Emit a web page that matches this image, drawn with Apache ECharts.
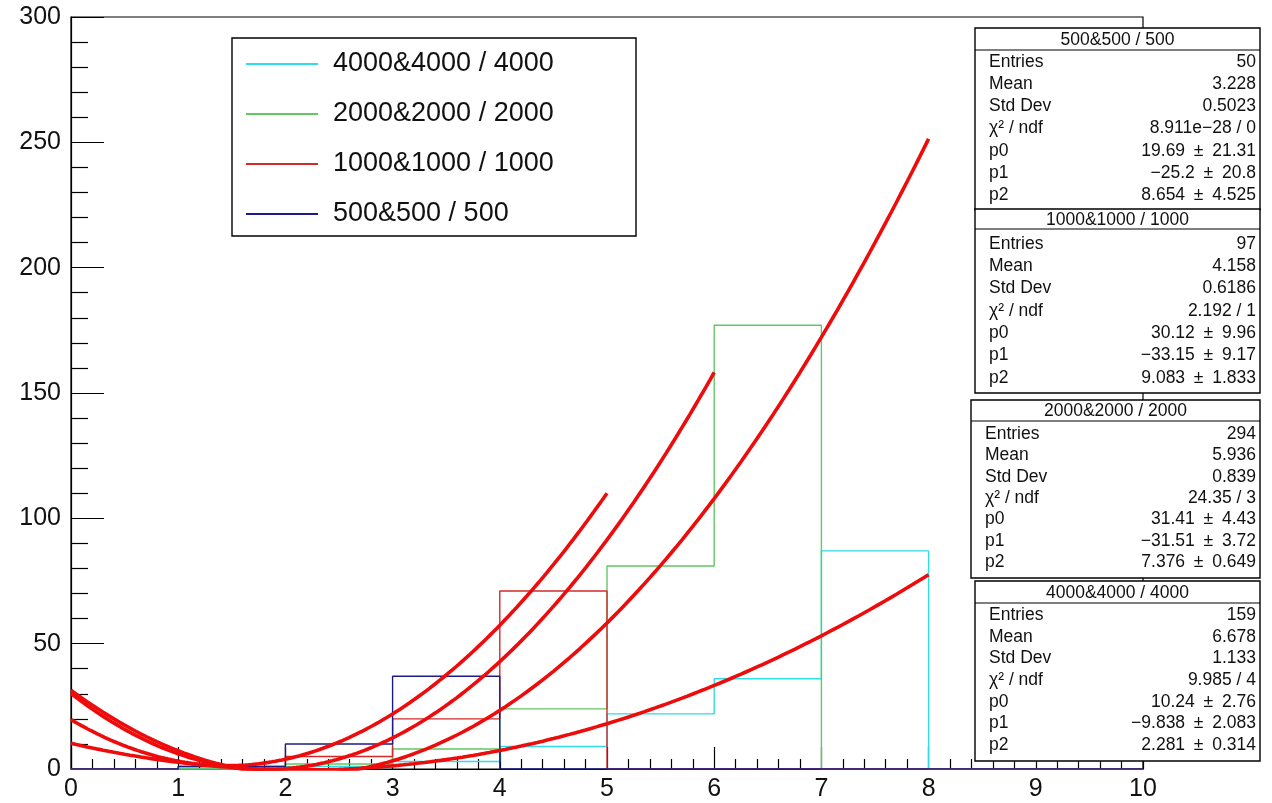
<!DOCTYPE html>
<html>
<head>
<meta charset="utf-8">
<script src="https://cdn.jsdelivr.net/npm/echarts@6/dist/echarts.min.js"></script>
<style>
  html, body { margin: 0; padding: 0; background: #ffffff; }
  #chart { width: 1272px; height: 803px; }
</style>
</head>
<body>
<div id="chart"></div>
<script>
// Bin edges shared by all histograms (10 bins of width 1)
const binEdges = [0, 1, 2, 3, 4, 5, 6, 7, 8, 9, 10];

// Histogram names
const names = ['500&500 / 500', '1000&1000 / 1000', '2000&2000 / 2000', '4000&4000 / 4000'];

// Bin contents per histogram
const counts500  = [0, 1, 10, 37, 0, 0, 0, 0, 0, 0];
const counts1000 = [0, 1, 5, 20, 71, 0, 0, 0, 0, 0];
const counts2000 = [0, 0, 2, 8, 24, 81, 177, 0, 0, 0];
const counts4000 = [0, 0, 1, 3, 9, 22, 36, 87, 0, 0];

// Fit results: pol2 = p0 + p1*x + p2*x^2, fitted from 0 to fitEnd
const p0 = [19.69, 30.12, 31.41, 10.24];
const p0Err = ['21.31', '9.96', '4.43', '2.76'];
const p1 = [-25.2, -33.15, -31.51, -9.838];
const p1Err = ['20.8', '9.17', '3.72', '2.083'];
const p2 = [8.654, 9.083, 7.376, 2.281];
const p2Err = ['4.525', '1.833', '0.649', '0.314'];
const fitEnd = [5, 6, 8, 8];

// Statistics box contents
const entries = ['50', '97', '294', '159'];
const means = ['3.228', '4.158', '5.936', '6.678'];
const stdDevs = ['0.5023', '0.6186', '0.839', '1.133'];
const chi2 = ['8.911e\u221228 / 0', '2.192 / 1', '24.35 / 3', '9.985 / 4'];

// Axis ranges
const xRange = [0, 10];
const yRange = [0, 300];

const histColors = ['#1c1c86', '#d22a2a', '#62c862', '#30dce8'];
const fitColor = '#ee0b0b';
const FONT = '"Liberation Sans", Arial, Helvetica, sans-serif';

function histPoints(counts) {
  const pts = counts.map((c, i) => [binEdges[i], c]);
  pts.push([binEdges[binEdges.length - 1], counts[counts.length - 1]]);
  return pts;
}

function fitPoints(k) {
  const n = 160;
  const pts = [];
  for (let i = 0; i <= n; i++) {
    const x = fitEnd[k] * i / n;
    pts.push([x, p0[k] + p1[k] * x + p2[k] * x * x]);
  }
  return pts;
}

const allCounts = [counts500, counts1000, counts2000, counts4000];

// Histograms: 4000 drawn first, 500 on top
const histSeries = [3, 2, 1, 0].map(k => ({
  name: names[k],
  type: 'line',
  step: 'end',
  data: histPoints(allCounts[k]),
  showSymbol: false,
  symbol: 'none',
  lineStyle: { color: histColors[k], width: 1.4 },
  itemStyle: { color: histColors[k] },
  z: 3,
  silent: true
}));

const fitSeries = [0, 1, 2, 3].map(k => ({
  name: 'pol2 ' + names[k],
  type: 'line',
  data: fitPoints(k),
  showSymbol: false,
  symbol: 'none',
  clip: true,
  lineStyle: { color: fitColor, width: 3.6 },
  itemStyle: { color: fitColor },
  z: 4,
  silent: true
}));

// Statistics boxes
const fmt = v => String(v).replace('-', '\u2212');
const pm = '\u2002\u00b1\u2002';
const boxLayout = [
  { left: 975, top: 28,  bottom: 210, sep: 50,  first: 62,  step: 22.2 },
  { left: 975, top: 209, bottom: 393, sep: 229, first: 244, step: 22.3 },
  { left: 971, top: 400, bottom: 578, sep: 421, first: 434, step: 21.4 },
  { left: 975, top: 581, bottom: 761, sep: 603, first: 615, step: 21.7 }
];
const boxRight = 1260;
const STAT_SIZE = 17.5;

function txt(text, x, y, align, size) {
  return {
    type: 'text', z: 102,
    style: {
      text: text, x: x, y: y,
      fontSize: size, fontFamily: FONT, fill: '#111111',
      align: align, verticalAlign: 'middle', textAlign: align, textVerticalAlign: 'middle'
    }
  };
}

const graphics = [];
boxLayout.forEach((b, k) => {
  graphics.push({
    type: 'rect', z: 100,
    shape: { x: b.left, y: b.top, width: boxRight - b.left, height: b.bottom - b.top },
    style: { fill: '#ffffff', stroke: '#000000', lineWidth: 1.4 }
  });
  graphics.push({
    type: 'line', z: 101,
    shape: { x1: b.left, y1: b.sep, x2: boxRight, y2: b.sep },
    style: { stroke: '#000000', lineWidth: 1.2 }
  });
  graphics.push(txt(names[k], (b.left + boxRight) / 2, (b.top + b.sep) / 2 + 1, 'center', STAT_SIZE));
  const labels = ['Entries', 'Mean', 'Std Dev', '\u03c7\u00b2 / ndf', 'p0', 'p1', 'p2'];
  const values = [
    entries[k], means[k], stdDevs[k], chi2[k],
    fmt(p0[k]) + pm + p0Err[k],
    fmt(p1[k]) + pm + p1Err[k],
    fmt(p2[k]) + pm + p2Err[k]
  ];
  labels.forEach((lab, r) => {
    const y = b.first + r * b.step;
    graphics.push(txt(lab, b.left + 14, y, 'left', STAT_SIZE));
    graphics.push(txt(values[r], boxRight - 4, y, 'right', STAT_SIZE));
  });
});

// Legend frame
graphics.push({
  type: 'rect', z: 50,
  shape: { x: 232, y: 38, width: 404, height: 198 },
  style: { fill: '#ffffff', stroke: '#000000', lineWidth: 1.4 }
});

const chart = echarts.init(document.getElementById('chart'), null, { renderer: 'canvas' });
chart.setOption({
  animation: false,
  backgroundColor: '#ffffff',
  grid: {
    left: 71, right: 1272 - 1143, top: 17, bottom: 803 - 769,
    show: true, borderColor: '#000000', borderWidth: 1.2, backgroundColor: 'transparent'
  },
  xAxis: {
    type: 'value', min: xRange[0], max: xRange[1], interval: 1,
    axisLine: { show: true, onZero: false, lineStyle: { color: '#000000', width: 1.2 } },
    axisTick: { show: true, inside: true, length: 22, lineStyle: { color: '#000000', width: 1.2 } },
    minorTick: { show: true, splitNumber: 5, length: 10, lineStyle: { color: '#000000', width: 1.2 } },
    splitLine: { show: false },
    axisLabel: { fontSize: 25, fontFamily: FONT, color: '#111111', margin: 8 }
  },
  yAxis: {
    type: 'value', min: yRange[0], max: yRange[1], interval: 50,
    axisLine: { show: true, onZero: false, lineStyle: { color: '#000000', width: 1.2 } },
    axisTick: { show: true, inside: true, length: 33, lineStyle: { color: '#000000', width: 1.2 } },
    minorTick: { show: true, splitNumber: 5, length: 17, lineStyle: { color: '#000000', width: 1.2 } },
    splitLine: { show: false },
    axisLabel: { fontSize: 25, fontFamily: FONT, color: '#111111', margin: 10 }
  },
  legend: {
    data: [names[3], names[2], names[1], names[0]],
    orient: 'vertical',
    left: 246, top: 50,
    padding: 0,
    itemWidth: 72, itemHeight: 2,
    itemGap: 22,
    icon: 'rect',
    selectedMode: false,
    z: 60,
    textStyle: { fontSize: 27, fontFamily: FONT, color: '#111111', lineHeight: 28, padding: [0, 0, 0, 10] }
  },
  tooltip: { show: false },
  graphic: { elements: graphics },
  series: histSeries.concat(fitSeries)
});
</script>
</body>
</html>
